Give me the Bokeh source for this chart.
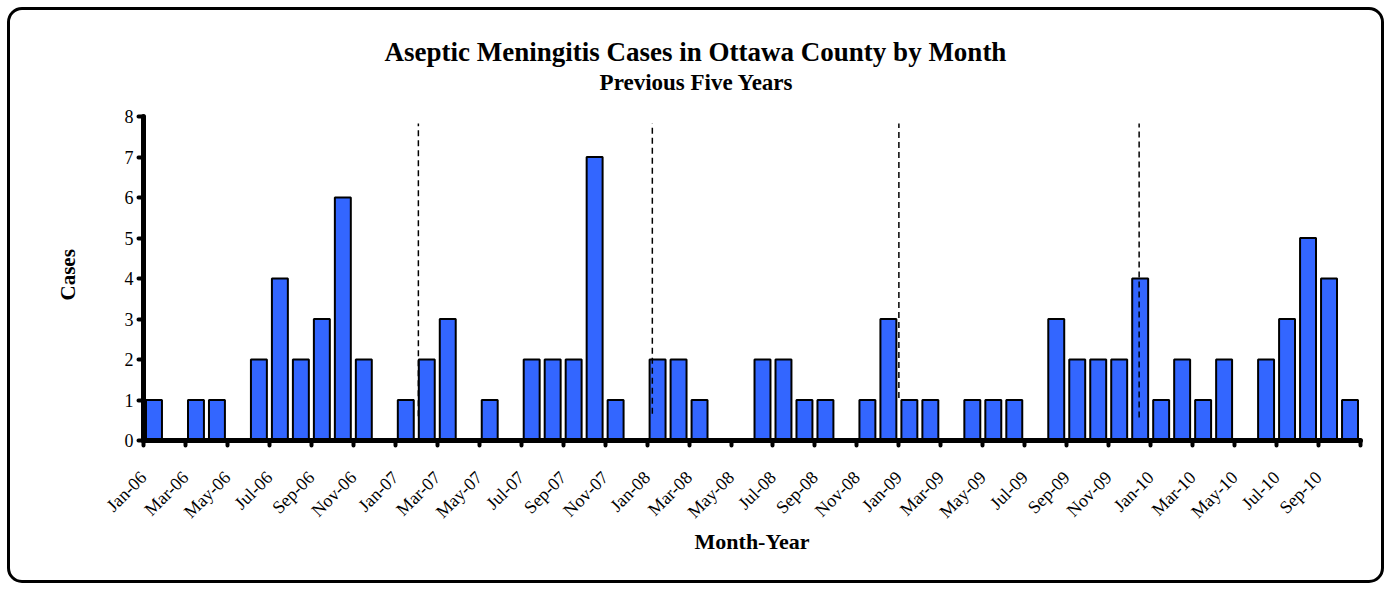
import math
from bokeh.plotting import figure
from bokeh.models import Range1d, FixedTicker, Label, Title, ColumnDataSource
from bokeh.embed import file_html
from bokeh.resources import INLINE

# ---- data ----
months = [
    "Jan-06", "Feb-06", "Mar-06", "Apr-06", "May-06", "Jun-06", "Jul-06", "Aug-06", "Sep-06", "Oct-06", "Nov-06", "Dec-06",
    "Jan-07", "Feb-07", "Mar-07", "Apr-07", "May-07", "Jun-07", "Jul-07", "Aug-07", "Sep-07", "Oct-07", "Nov-07", "Dec-07",
    "Jan-08", "Feb-08", "Mar-08", "Apr-08", "May-08", "Jun-08", "Jul-08", "Aug-08", "Sep-08", "Oct-08", "Nov-08", "Dec-08",
    "Jan-09", "Feb-09", "Mar-09", "Apr-09", "May-09", "Jun-09", "Jul-09", "Aug-09", "Sep-09", "Oct-09", "Nov-09", "Dec-09",
    "Jan-10", "Feb-10", "Mar-10", "Apr-10", "May-10", "Jun-10", "Jul-10", "Aug-10", "Sep-10", "Oct-10",
]
cases_2006 = [1, 0, 1, 1, 0, 2, 4, 2, 3, 6, 2, 0]
cases_2007 = [1, 2, 3, 0, 1, 0, 2, 2, 2, 7, 1, 0]
cases_2008 = [2, 2, 1, 0, 0, 2, 2, 1, 1, 0, 1, 3]
cases_2009 = [1, 1, 0, 1, 1, 1, 0, 3, 2, 2, 2, 4]
cases_2010 = [1, 2, 1, 2, 0, 2, 3, 5, 4, 1]
cases = cases_2006 + cases_2007 + cases_2008 + cases_2009 + cases_2010

y_ticks = [0, 1, 2, 3, 4, 5, 6, 7, 8]
y_max = 8

# hand-drawn dashed divider lines (month position, bottom value, top value)
divider_x = [13.1, 24.25, 36.0, 47.45]
divider_bottom = [0.6, 0.66, 1.05, 0.57]
divider_top = [7.83, 7.83, 7.83, 7.83]

TITLE = "Aseptic Meningitis Cases in Ottawa County by Month"
SUBTITLE = "Previous Five Years"

FONT = "Liberation Serif"

n = len(months)
xc = [i + 0.5 for i in range(n)]
src = ColumnDataSource(dict(x=xc, top=cases, month=months))

# the frame reaches up to the top of the chart so the two-line title can sit inside it;
# the y axis itself is bounded to 0..8 (324 px of axis for 8 units)
frame_top_px = 10
axis_px = 324
extra_px = 106 - frame_top_px
y_end = y_max * (axis_px + extra_px) / axis_px

p = figure(
    width=1377, height=576,
    x_range=Range1d(0, n), y_range=Range1d(0, y_end),
    output_backend="svg", toolbar_location=None, title=None,
    min_border_left=133, min_border_right=27, min_border_top=frame_top_px, min_border_bottom=146,
)
p.styles = {"border": "3px solid black", "border-radius": "15px",
            "margin-left": "7px", "margin-top": "7px"}
p.border_fill_color = None
p.background_fill_color = "white"
p.outline_line_color = None
p.grid.visible = False

p.vbar(x="x", top="top", bottom=0, width=0.76, source=src,
       fill_color="#3366FF", line_color="black", line_width=2)

p.segment(x0=divider_x, y0=divider_bottom, x1=divider_x, y1=divider_top,
          line_color="black", line_width=1.5, line_dash="6 4")

# titles, centred on the whole chart area (screen units from frame left / bottom)
ttl = Label(x=552, y=389, x_units="screen", y_units="screen", text=TITLE,
            text_align="center", text_baseline="middle",
            text_font=FONT, text_font_size="27px", text_font_style="bold", text_color="black")
p.add_layout(ttl)
sub = Label(x=553, y=358, x_units="screen", y_units="screen", text=SUBTITLE,
            text_align="center", text_baseline="middle",
            text_font=FONT, text_font_size="23px", text_font_style="bold", text_color="black")
p.add_layout(sub)

# x axis: ticks at every other month boundary, labelled with that month
xa = p.xaxis[0]
tick_pos = list(range(0, n + 1, 2))
xa.ticker = FixedTicker(ticks=tick_pos)
xa.major_label_overrides = {i: (months[i] if i < n else "") for i in tick_pos}
xa.major_label_orientation = math.pi / 4
xa.major_tick_out = 5
xa.major_tick_in = 0
xa.major_tick_line_width = 4
xa.major_tick_line_color = "black"
xa.major_tick_line_cap = "round"
xa.minor_tick_line_color = None
xa.axis_line_width = 5
xa.axis_line_color = "black"
xa.axis_line_cap = "round"
xa.major_label_standoff = 29
xa.major_label_text_font = FONT
xa.major_label_text_font_size = "18px"
xa.major_label_text_color = "black"
xa.axis_label = "Month-Year"
xa.axis_label_text_font = FONT
xa.axis_label_text_font_size = "22px"
xa.axis_label_text_font_style = "bold"
xa.axis_label_text_color = "black"
xa.axis_label_standoff = -3

# y axis
ya = p.yaxis[0]
ya.ticker = FixedTicker(ticks=y_ticks)
ya.bounds = (0, y_max)
ya.minor_tick_line_color = None
ya.major_tick_out = 5
ya.major_tick_in = 0
ya.major_tick_line_width = 4
ya.major_tick_line_color = "black"
ya.major_tick_line_cap = "round"
ya.axis_line_width = 5
ya.axis_line_color = "black"
ya.axis_line_cap = "round"
ya.major_label_standoff = 5
ya.major_label_text_font = FONT
ya.major_label_text_font_size = "18px"
ya.major_label_text_color = "black"

# y axis title, centred on the 0..8 axis rather than on the taller frame
ytitle = Title(text="Cases", align="left", offset=140, vertical_align="bottom", standoff=84,
               text_font=FONT, text_font_size="21px", text_font_style="bold", text_color="black")
p.add_layout(ytitle, "left")

open("out.html", "w").write(file_html(p, INLINE))
